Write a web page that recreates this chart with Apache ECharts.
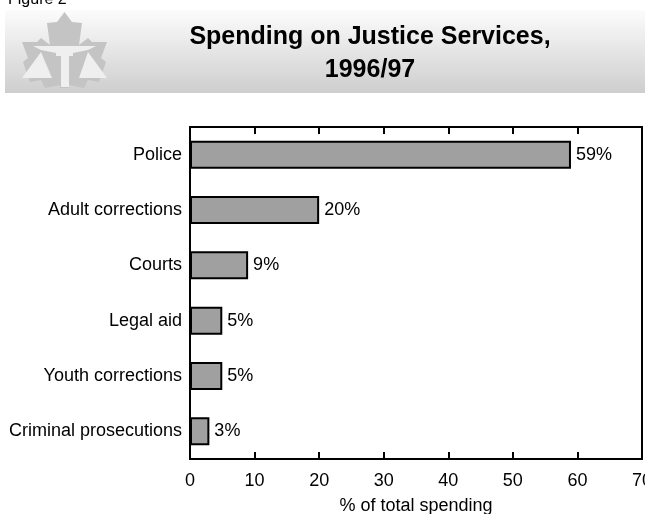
<!DOCTYPE html>
<html>
<head>
<meta charset="utf-8">
<script src="https://cdn.jsdelivr.net/npm/echarts@6/dist/echarts.min.js"></script>
<style>html,body{margin:0;padding:0;background:#fff}#c{width:645px;height:514px}</style>
</head>
<body>
<div id="c"></div>
<script>
var categories = ['Police', 'Adult corrections', 'Courts', 'Legal aid', 'Youth corrections', 'Criminal prosecutions'];
var spending = [59, 20, 9, 5, 5, 3];
var xTicks = [0, 10, 20, 30, 40, 50, 60, 70];

var FONT = '"Liberation Sans", Arial, sans-serif';
var chart = echarts.init(document.getElementById('c'), null, {renderer: 'canvas'});

var leaf = [[64.5,12],[72,22],[82,23],[79,45],[88,38],[92,42],[107,42],[101,58],[106,62],[99,82],[88,80],[84,88],[69,85],[69,88],[60,88],[60,85],[45,88],[41,80],[30,82],[23,62],[28,58],[22,42],[37,42],[41,38],[50,45],[47,23],[57,22]];
var pale = '#efefef';

chart.setOption({
  animation: false,
  backgroundColor: '#fff',
  graphic: [
    {type: 'rect', z: -10, shape: {x: 5, y: 10, width: 640, height: 83},
     style: {fill: new echarts.graphic.LinearGradient(0, 0, 0, 1, [{offset: 0, color: '#fcfcfc'}, {offset: 1, color: '#cecece'}])}},
    {type: 'polygon', z: -9, shape: {points: leaf}, style: {fill: '#c4c4c4'}},
    {type: 'polygon', z: -8, shape: {points: [[22,78],[52,78],[41,52]]}, style: {fill: pale}},
    {type: 'polygon', z: -8, shape: {points: [[79,78],[107,78],[88,52]]}, style: {fill: pale}},
    {type: 'rect', z: -8, shape: {x: 61, y: 54, width: 8, height: 33}, style: {fill: pale}},
    {type: 'polygon', z: -8, shape: {points: [[33,46],[96,46],[88,50],[73,53],[73,56],[56,56],[56,53],[41,50]]}, style: {fill: pale}},
    {type: 'text', x: 8, y: 8, style: {text: 'Figure 2', font: '16px ' + FONT, fill: '#000', textVerticalAlign: 'bottom'}},
    {type: 'text', x: 370, y: 37, style: {text: 'Spending on Justice Services,', font: 'bold 25px ' + FONT, fill: '#000', textAlign: 'center', textVerticalAlign: 'middle'}},
    {type: 'text', x: 370, y: 70, style: {text: '1996/97', font: 'bold 25px ' + FONT, fill: '#000', textAlign: 'center', textVerticalAlign: 'middle'}}
  ],
  grid: {left: 190, right: 3, top: 127, bottom: 55, containLabel: false, outerBoundsMode: 'none',
         show: true, borderColor: '#000', borderWidth: 2, backgroundColor: 'transparent'},
  xAxis: [
    {type: 'value', position: 'bottom', min: xTicks[0], max: xTicks[xTicks.length - 1], interval: 10,
     axisLine: {show: true, lineStyle: {color: '#000', width: 2}},
     axisTick: {show: true, inside: true, length: 7, lineStyle: {color: '#000', width: 2}},
     axisLabel: {color: '#000', fontSize: 18, fontFamily: FONT, margin: 13, hideOverlap: false, showMaxLabel: true},
     splitLine: {show: false},
     name: '% of total spending', nameLocation: 'middle', nameGap: 38,
     nameTextStyle: {color: '#000', fontSize: 18, fontFamily: FONT}},
    {type: 'value', position: 'top', min: xTicks[0], max: xTicks[xTicks.length - 1], interval: 10,
     axisLine: {show: true, lineStyle: {color: '#000', width: 2}},
     axisTick: {show: true, inside: true, length: 7, lineStyle: {color: '#000', width: 2}},
     axisLabel: {show: false}, splitLine: {show: false}}
  ],
  yAxis: {type: 'category', data: categories, inverse: true,
    axisLine: {show: true, lineStyle: {color: '#000', width: 2}},
    axisTick: {show: false},
    axisLabel: {color: '#000', fontSize: 18, fontFamily: FONT, margin: 8}},
  series: [{
    type: 'bar', data: spending, barWidth: 28, xAxisIndex: 0,
    itemStyle: {color: '#a0a0a0', borderColor: '#000', borderWidth: 2},
    label: {show: true, position: 'right', distance: 5, formatter: '{c}%', color: '#000', fontSize: 18, fontFamily: FONT}
  }]
});
</script>
</body>
</html>
